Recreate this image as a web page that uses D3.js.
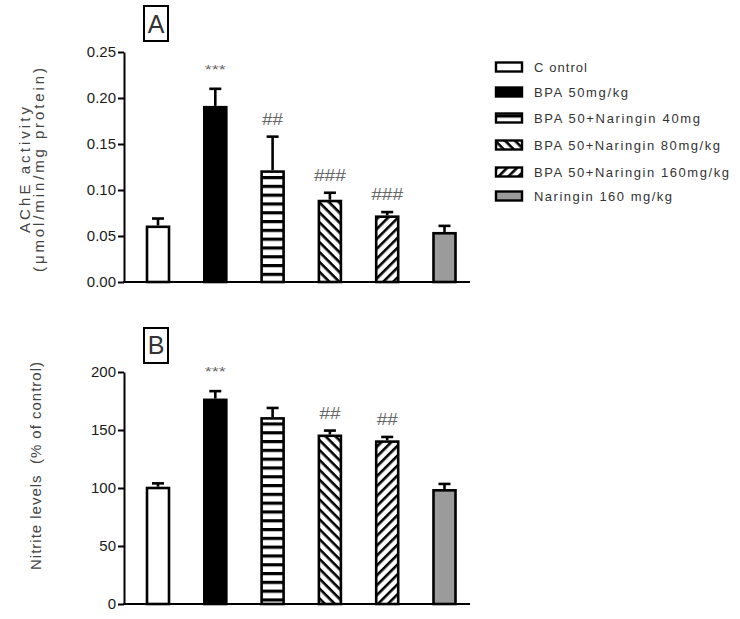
<!DOCTYPE html>
<html><head><meta charset="utf-8">
<script src="https://cdn.jsdelivr.net/npm/d3@7"></script>
<style>
html,body{margin:0;padding:0;background:#fff;}
text{font-family:"Liberation Sans",Arial,sans-serif;}
</style></head>
<body>
<svg id="chart" width="740" height="619"></svg>
<script>
// ---------- data ----------
const groups = ["Control","BPA 50mg/kg","BPA 50+Naringin 40mg","BPA 50+Naringin 80mg/kg","BPA 50+Naringin 160mg/kg","Naringin 160 mg/kg"];
const legendLabels = ["C ontrol","BPA 50mg/kg","BPA 50+Naringin 40mg","BPA 50+Naringin 80mg/kg","BPA 50+Naringin 160mg/kg","Naringin 160 mg/kg"];
const acheMean = [0.060, 0.190, 0.120, 0.088, 0.071, 0.053];
const acheErr  = [0.009, 0.020, 0.038, 0.009, 0.005, 0.008];
const acheSig  = ["", "***", "##", "###", "###", ""];
const acheTicks = [0, 0.05, 0.10, 0.15, 0.20, 0.25];
const nitMean = [100, 176, 160, 145, 140, 98];
const nitErr  = [4, 7.5, 9, 4.5, 4, 5.5];
const nitSig  = ["", "***", "", "##", "##", ""];
const nitTicks = [0, 50, 100, 150, 200];

// ---------- styles ----------
const fills = ["#ffffff","#000000","url(#pH)","url(#pB)","url(#pF)","#9b9b9b"];

const svg = d3.select("#chart");
const defs = svg.append("defs");
// horizontal stripes
const pH = defs.append("pattern").attr("id","pH").attr("patternUnits","userSpaceOnUse")
  .attr("width",10).attr("height",8.8);
pH.append("rect").attr("width",10).attr("height",8.8).attr("fill","#fff");
pH.append("rect").attr("y",0).attr("width",10).attr("height",3.2).attr("fill","#000");
// diagonal stripes
function diag(id, angle){
  const p = defs.append("pattern").attr("id",id).attr("patternUnits","userSpaceOnUse")
    .attr("width",10).attr("height",7).attr("patternTransform",`rotate(${angle})`);
  p.append("rect").attr("width",10).attr("height",7).attr("fill","#fff");
  p.append("rect").attr("y",0).attr("width",10).attr("height",2.6).attr("fill","#000");
}
diag("pB",45);
diag("pF",-45);

const x = d3.scalePoint().domain(groups).range([158, 444.5]);
const barW = 22;
const axisX0 = 124, axisX1 = 470;

function panel(opts){
  const {y, mean, err, sig, ticks, fmt, letter, box, ylab} = opts;
  const g = svg.append("g");
  g.selectAll("rect.bar").data(groups).join("rect")
    .attr("x", d => x(d) - barW/2)
    .attr("y", (d,i) => y(mean[i]))
    .attr("width", barW)
    .attr("height", (d,i) => y(0) - y(mean[i]))
    .attr("fill", (d,i) => fills[i])
    .attr("stroke","#000").attr("stroke-width",2.6);
  g.selectAll("line.err").data(groups).join("line")
    .attr("x1", d => x(d)).attr("x2", d => x(d))
    .attr("y1", (d,i) => y(mean[i]) - 1.3)
    .attr("y2", (d,i) => y(mean[i] + err[i]))
    .attr("stroke","#000").attr("stroke-width",2.6);
  g.selectAll("line.cap").data(groups).join("line")
    .attr("x1", d => x(d) - 6).attr("x2", d => x(d) + 6)
    .attr("y1", (d,i) => y(mean[i] + err[i]))
    .attr("y2", (d,i) => y(mean[i] + err[i]))
    .attr("stroke","#000").attr("stroke-width",2.6);
  g.selectAll("text.sig").data(groups).join("text")
    .attr("x", d => x(d))
    .attr("y", (d,i) => sig[i] === "***" ? y(mean[i] + err[i]) - 15 : y(mean[i] + err[i]) - 12)
    .attr("text-anchor","middle")
    .attr("font-size", (d,i) => sig[i] === "***" ? 12 : 16)
    .attr("fill","#666")
    .attr("textLength", (d,i) => sig[i].length ? (sig[i] === "###" ? 32 : 21) : null)
    .attr("lengthAdjust","spacingAndGlyphs")
    .text((d,i) => sig[i]);
  const ya = g.append("g").attr("transform",`translate(${axisX0},0)`)
    .call(d3.axisLeft(y).tickValues(ticks).tickFormat(fmt).tickSize(6).tickSizeOuter(0).tickPadding(2));
  ya.select(".domain").attr("stroke","#000").attr("stroke-width",2);
  ya.selectAll(".tick line").attr("stroke","#000").attr("stroke-width",2);
  ya.selectAll(".tick text").attr("font-size",15).attr("fill","#1a1a1a")
    .attr("font-family","'Liberation Sans',Arial,sans-serif");
  g.append("line").attr("x1",axisX0-1).attr("x2",axisX1).attr("y1",y(0)).attr("y2",y(0))
    .attr("stroke","#000").attr("stroke-width",2);
  g.append("rect").attr("x",box.x).attr("y",box.y).attr("width",box.w).attr("height",box.h)
    .attr("fill","#fff").attr("stroke","#000").attr("stroke-width",2);
  g.append("text").attr("x",box.x+box.w/2).attr("y",box.base).attr("text-anchor","middle")
    .attr("font-size",25).attr("fill","#333").text(letter);
  ylab.forEach(l => {
    g.append("text").attr("transform",`translate(${l.x},${l.cy}) rotate(-90)`)
      .attr("text-anchor","middle").attr("font-size",15).attr("fill","#444")
      .attr("textLength",l.len).attr("lengthAdjust","spacing")
      .text(l.t);
  });
}

const yA = d3.scaleLinear().domain([0,0.25]).range([282,52]);
panel({y:yA, mean:acheMean, err:acheErr, sig:acheSig, ticks:acheTicks, fmt:d3.format(".2f"),
  letter:"A", box:{x:144,y:6,w:24,h:35,base:33},
  ylab:[{t:"AChE activity",x:30,cy:170,len:126},{t:"(\u03bcmol/min/mg protein)",x:44,cy:170,len:204}]});

const yB = d3.scaleLinear().domain([0,200]).range([604,372]);
panel({y:yB, mean:nitMean, err:nitErr, sig:nitSig, ticks:nitTicks, fmt:d3.format("d"),
  letter:"B", box:{x:144,y:328,w:24,h:35,base:354},
  ylab:[{t:"Nitrite levels\u00a0\u00a0(%\u00a0of control)",x:41,cy:466,len:208}]});

// legend
const legendY = [67, 92, 118, 145, 172, 196];
const legendLens = [53, 94, 166, 186, 195, 138];
const lg = svg.append("g");
groups.forEach((gname,i) => {
  lg.append("rect").attr("x",496).attr("y",legendY[i]-4.5).attr("width",26).attr("height",9)
    .attr("fill",fills[i]).attr("stroke","#000").attr("stroke-width",2.4);
  lg.append("text").attr("x",534).attr("y",legendY[i]+4.5).attr("font-size",13).attr("fill","#333")
    .attr("textLength",legendLens[i]).attr("lengthAdjust","spacing").text(legendLabels[i]);
});
</script>
</body></html>
